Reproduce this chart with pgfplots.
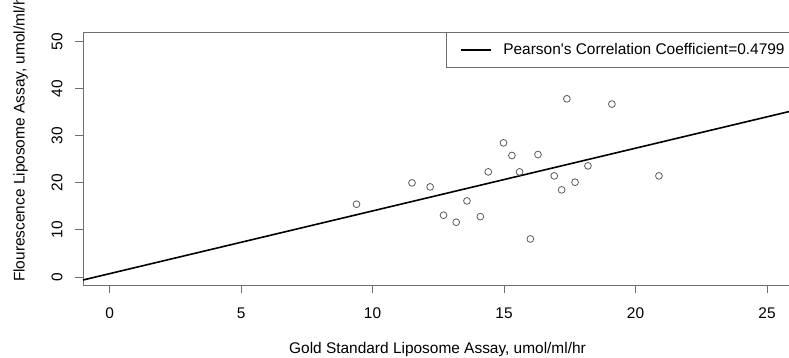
\documentclass[border=0pt]{standalone}
\usepackage{pgfplots}
\pgfplotsset{compat=1.18}
\usepackage{fontspec}
\setmainfont{Liberation Sans}[Ligatures=TeXOff]
\definecolor{axgray}{HTML}{6E6E6E}
\definecolor{ptgray}{HTML}{5A5A5A}
\begin{document}
\begin{tikzpicture}[font=\fontsize{15.5}{18}\selectfont]
\path[use as bounding box] (-83bp,-73bp) rectangle (706bp,285bp);
\begin{axis}[
  at={(0,0)}, anchor=south west,
  scale only axis,
  width=709bp, height=253bp,
  xmin=-1.01, xmax=25.95,
  ymin=-1.7, ymax=52,
  xtick={0,5,10,15,20,25},
  ytick={0,10,20,30,40,50},
  /pgf/number format/assume math mode=true,
  tick align=outside,
  xtick pos=bottom, ytick pos=left,
  major tick length=8bp,
  axis line style={axgray, line width=0.9bp},
  tick style={axgray, line width=0.9bp},
  xticklabel style={anchor=center, yshift=-20bp, text=black},
  yticklabel style={anchor=center, rotate=90, text=black},
  yticklabel shift=18bp,
  every axis x label/.style={at={(axis description cs:0.5,-0.2708)}, anchor=base},
  every axis y label/.style={at={(axis description cs:-0.0822,0.585)}, rotate=90, anchor=base},
  xlabel={Gold Standard Liposome Assay, umol/ml/hr},
  ylabel={Flourescence Liposome Assay, umol/ml/hr},
  legend style={at={(axis description cs:1,1)}, anchor=north east, xshift=8bp, draw=axgray, line width=0.9bp,
    inner xsep=13bp, inner ysep=9bp, font=\fontsize{15.5}{18}\selectfont,
    /tikz/every odd column/.append style={column sep=10bp}},
  legend image code/.code={\draw[#1, line width=1.6bp] (0bp,0bp) -- (30bp,0bp);},
]
\addplot[only marks, mark=o, mark size=3.4bp, mark options={draw=ptgray, line width=0.8bp}, forget plot] coordinates {
(9.39,15.45) (11.50,19.97) (12.19,19.12) (12.70,13.11) (13.18,11.62)
(13.59,16.15) (14.10,12.81) (14.40,22.31) (14.98,28.47) (15.30,25.78)
(15.59,22.31) (16.00,8.07) (16.29,25.99) (16.91,21.46) (17.19,18.49)
(17.39,37.82) (17.70,20.12) (18.19,23.59) (19.10,36.70) (20.89,21.46)
};
\addplot[black, line width=1.6bp] coordinates {(-1.01,-0.64) (25.95,35.26)};
\addlegendentry{Pearson's Correlation Coefficient=0.4799}
\end{axis}
\end{tikzpicture}
\end{document}
